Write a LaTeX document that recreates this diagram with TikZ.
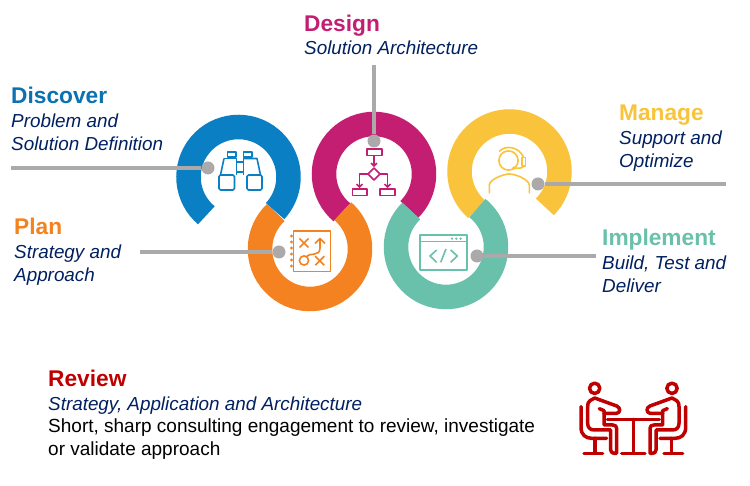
\documentclass[tikz,border=0pt]{standalone}
\usepackage{fontspec}
\setmainfont{Liberation Sans}
\usetikzlibrary{calc,arrows.meta}
\definecolor{cblue}{HTML}{0B7FC4}
\definecolor{cmag}{HTML}{C41E73}
\definecolor{corange}{HTML}{F58220}
\definecolor{cteal}{HTML}{69C1AB}
\definecolor{cyellow}{HTML}{F9C33C}
\definecolor{cred}{HTML}{C00000}
\definecolor{cnavy}{HTML}{002060}
\definecolor{cgrey}{HTML}{ABA9A9}
\tikzset{
  ring/.style={line width=24.5pt,line cap=butt},
  head/.style={anchor=base west,inner sep=0,font=\fontsize{22.7}{26}\selectfont\bfseries},
  sub/.style={anchor=north west,inner sep=0,align=left,text=cnavy,font=\fontsize{18.85}{22.4}\selectfont\itshape},
  plain/.style={anchor=north west,inner sep=0,align=left,text=black,font=\fontsize{19}{22.6}\selectfont},
  lead/.style={cgrey,line width=4.4pt},
  dot/.style={circle,fill=cgrey,minimum size=13pt,inner sep=0},
  icon/.style={line width=1.6pt,line join=round},
  redl/.style={cred,line width=3.5pt,line cap=round,line join=round},
  tip/.style={-{Straight Barb[length=2.8pt,width=6pt]}},
}
\newcommand{\seatedperson}{%
  \draw[redl] (74,55) circle[radius=15.5];
  \draw[redl] (33,110) -- (33,172) .. controls (33,195) and (48,205) .. (65,205) -- (110,205);
  \draw[redl] (75,205) -- (75,250) (42,250) -- (98,250);
  \draw[redl] (74,84) -- (60,92) .. controls (54,96) and (53,102) .. (53,110) -- (53,160)
     .. controls (53,172) and (60,180) .. (72,180) -- (122,180) -- (122,240)
     .. controls (122,248) and (128,250) .. (134,250) -- (140,250) -- (140,175)
     .. controls (140,168) and (135,165) .. (128,165) -- (102,165) -- (102,122) -- (88,116);
  \draw[redl] (74,84) -- (140,108) .. controls (152,113) and (152,128) .. (140,130) -- (102,130);
}
\begin{document}
\begin{tikzpicture}[x=1pt,y=1pt]
\useasboundingbox (0,0) rectangle (750,486);
\fill[white] (0,0) rectangle (750,486);
% rings (y upwards)
\coordinate (cB) at (238.5,309);
\coordinate (cO) at (310,237);
\coordinate (cM) at (374,312);
\coordinate (cT) at (446,239);
\coordinate (cY) at (509.5,314.5);
\draw[ring,cblue] ($(cB)+(230:50)$) arc[start angle=230,end angle=-43,radius=50];
\draw[ring,cmag] ($(cM)+(230:50)$) arc[start angle=230,end angle=-45,radius=50];
\draw[ring,cyellow] ($(cY)+(229:50)$) arc[start angle=229,end angle=-45,radius=50];
\draw[ring,corange] ($(cO)+(133:50)$) arc[start angle=133,end angle=409,radius=50];
\draw[ring,cteal] ($(cT)+(134:50)$) arc[start angle=134,end angle=411,radius=50];
\begin{scope}[shift={(0,486)},y=-1pt]
% icons
\begin{scope}[icon,cblue]
  \draw (227.5,152) rectangle (236,157);
  \draw (243.5,152) rectangle (252,157);
  \draw (224,158.5) -- (236.5,158.5) -- (236.5,175);
  \draw (224,158.5) -- (220.5,175);
  \draw (243.5,158.5) -- (257,158.5) -- (260.5,175);
  \draw (243.5,158.5) -- (243.5,175);
  \draw[rounded corners=1.5pt] (219,175) rectangle (234.5,190);
  \draw[rounded corners=1.5pt] (247,175) rectangle (262,190);
  \draw (236.5,162) -- (243.5,162) (236.5,172) -- (243.5,172);
\end{scope}
\begin{scope}[icon,cmag]
  \draw (366.7,149) rectangle (381.7,155.7);
  \draw[tip] (374,155.7) -- (374,167);
  \draw (374,168) -- (380,174) -- (374,180) -- (368,174) -- cycle;
  \draw[tip] (368,174) -- (359.5,174) -- (359.5,188);
  \draw[tip] (380,174) -- (387.5,174) -- (387.5,188);
  \draw (352.3,189) rectangle (366.7,195.7);
  \draw (380,189) rectangle (395,195.7);
\end{scope}
\begin{scope}[icon,corange]
  \draw (293.5,231) rectangle (330.5,271.5);
  \foreach \yy in {236,242,248,254,260,266}
    \fill (291.5,\yy) circle[radius=1.7];
  \draw (299.5,238.5) -- (308.5,247.5) (308.5,238.5) -- (299.5,247.5);
  \draw (315.2,256.2) -- (324.2,265.2) (324.2,256.2) -- (315.2,265.2);
  \draw (304,260.5) circle[radius=4.6];
  \draw (306.5,256.5) .. controls (309,252.5) and (320,257) .. (320,248) -- (320,239);
  \draw (315,243.5) -- (320,238.5) -- (325,243.5);
\end{scope}
\begin{scope}[icon,cyellow]
  \draw (508.5,160.5) circle[radius=9.6];
  \draw (499.2,151.5) .. controls (505,145) and (518,146) .. (523.5,157);
  \draw (522,157.5) rectangle (525.5,166);
  \draw (524,166) .. controls (522,169) and (518,168) .. (514,168);
  \fill (514,168) circle[radius=1.9];
  \draw (489.3,193.5) -- (489.3,185) .. controls (490,179) and (504,174) .. (509.3,174)
     .. controls (515,174) and (528.5,179) .. (529.3,185) -- (529.3,193.5);
\end{scope}
\begin{scope}[icon,cteal]
  \draw (420,235) rectangle (466.7,270);
  \draw (420,241.5) -- (466.7,241.5);
  \fill (452,238.7) circle[radius=1.3] (456.3,238.7) circle[radius=1.3] (460.7,238.7) circle[radius=1.3];
  \draw (436.7,250) -- (430,256) -- (436.7,262.3);
  \draw (446,249) -- (440.7,262.3);
  \draw (450.7,250) -- (457.3,256) -- (450.7,262.3);
\end{scope}
% meeting icon
\begin{scope}[shift={(570,370)},x=0.3333pt,y=-0.3333pt]
  \seatedperson
  \draw[redl] (112,148) -- (268,148);
  \draw[redl] (190,148) -- (190,250) (155,250) -- (225,250);
\end{scope}
\begin{scope}[shift={(696.67,370)},x=-0.3333pt,y=-0.3333pt]
  \seatedperson
\end{scope}
% connectors
\coordinate (endDiscover) at (11,168);
\coordinate (endPlan) at (140,252);
\coordinate (endDesign) at (374,65);
\coordinate (endManage) at (726,184);
\coordinate (endImplement) at (596,256);
\node[dot] (dotDiscover) at (208,168) {};
\node[dot] (dotPlan) at (279,252) {};
\node[dot] (dotDesign) at (374,141) {};
\node[dot] (dotManage) at (538,184) {};
\node[dot] (dotImplement) at (477,256) {};
\draw[lead] (endDiscover) -- (dotDiscover);
\draw[lead] (endPlan) -- (dotPlan);
\draw[lead] (endDesign) -- (dotDesign);
\draw[lead] (endManage) -- (dotManage);
\draw[lead] (endImplement) -- (dotImplement);
% texts
\node[head,text=cblue!90!black] (hDiscover) at (11,104) {Discover};
\node[sub] (tDiscover) at (11,114) {Problem and\\Solution Definition};
\node[head,text=cmag] (hDesign) at (304,32) {Design};
\node[sub] (tDesign) at (304,41) {Solution Architecture};
\node[head,text=corange] (hPlan) at (14,235) {Plan};
\node[sub] (tPlan) at (14,245) {Strategy and\\Approach};
\node[head,text=cyellow] (hManage) at (619,121) {Manage};
\node[sub] (tManage) at (619,131) {Support and\\Optimize};
\node[head,text=cteal] (hImplement) at (602,246) {Implement};
\node[sub] (tImplement) at (602,256) {Build, Test and\\Deliver};
\node[head,text=cred] (hReview) at (48,387) {Review};
\node[sub] (tReview) at (48,397) {Strategy, Application and Architecture};
\node[plain] (tReviewB) at (48,419) {Short, sharp consulting engagement to review, investigate\\or validate approach};
\end{scope}
\end{tikzpicture}
\end{document}
